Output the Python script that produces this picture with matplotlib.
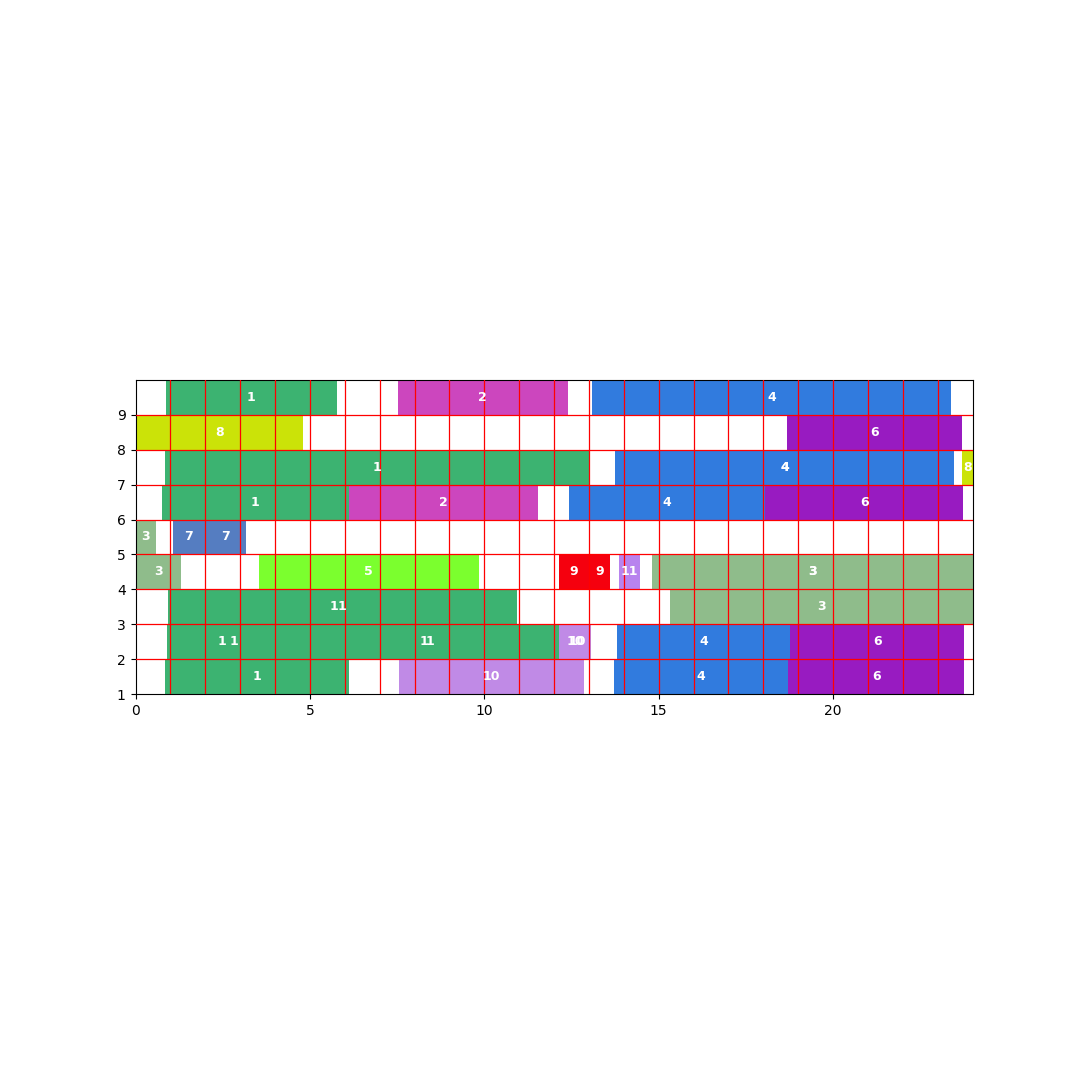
import matplotlib
matplotlib.use("Agg")
import matplotlib.pyplot as plt

# ---- data ----
# each task: machine row, start time, end time, job number
rows   = [9, 9, 9,
          8, 8,
          7, 7, 7, 7,
          6, 6, 6, 6,
          5, 5, 5,
          4, 4, 4, 4, 4, 4, 4,
          3, 3, 3,
          2, 2, 2, 2, 2, 2, 2, 2,
          1, 1, 1, 1]
starts = [0.87, 7.52, 13.08,
          0.00, 18.69,
          0.85, 13.78, 13.74, 23.71,
          0.75, 6.12, 12.42, 18.06,
          0.00, 1.07, 1.99,
          0.00, 3.54, 12.13, 12.99, 13.85, 14.84, 14.80,
          0.93, 0.93, 15.34,
          0.90, 0.90, 4.40, 4.76, 12.25, 12.13, 13.80, 18.78,
          0.85, 7.55, 13.71, 18.72]
ends   = [5.77, 12.39, 23.39,
          4.80, 23.71,
          13.02, 23.48, 23.48, 24.00,
          6.12, 11.53, 18.06, 23.74,
          0.59, 1.99, 3.16,
          1.30, 9.84, 12.99, 13.62, 14.46, 24.00, 24.00,
          10.45, 10.93, 24.00,
          4.04, 4.76, 12.13, 12.13, 13.07, 13.07, 18.78, 23.77,
          6.11, 12.85, 18.72, 23.77]
jobs   = [1, 2, 4,
          8, 6,
          1, 4, 4, 8,
          1, 2, 4, 6,
          3, 7, 7,
          3, 5, 9, 9, 11, 3, 3,
          1, 1, 3,
          1, 1, 1, 1, 10, 10, 4, 6,
          1, 10, 4, 6]
job_colors = {1: "#3CB371", 2: "#CC46BE", 3: "#8FBC8B", 4: "#317BDE",
              5: "#7BFF2E", 6: "#981BC1", 7: "#557DC1", 8: "#CBE308",
              9: "#F5000E", 10: "#C08AE6", 11: "#B883EE"}
x_ticks = [0, 5, 10, 15, 20]
y_ticks = [1, 2, 3, 4, 5, 6, 7, 8, 9]

# ---- figure ----
fig = plt.figure(figsize=(10.8, 10.8), dpi=100)
ax = fig.add_axes([135.5 / 1080, 1 - 694 / 1080, 837 / 1080, 314 / 1080])

for r, s, e, j in zip(rows, starts, ends, jobs):
    ax.barh(r + 0.5, e - s, left=s, height=1.0, color=job_colors[j],
            edgecolor="none", zorder=2)
    ax.text((s + e) / 2, r + 0.5, str(j), color="white", fontsize=9,
            fontweight="bold", ha="center", va="center", zorder=6)

for x in range(1, 24):
    ax.axvline(x, color="red", lw=0.9, zorder=4)
for y in range(2, 10):
    ax.axhline(y, color="red", lw=0.9, zorder=4)

ax.set_xlim(0, 24)
ax.set_ylim(1, 10)
ax.set_xticks(x_ticks)
ax.set_yticks(y_ticks)

fig.savefig("out.png", dpi=100)
